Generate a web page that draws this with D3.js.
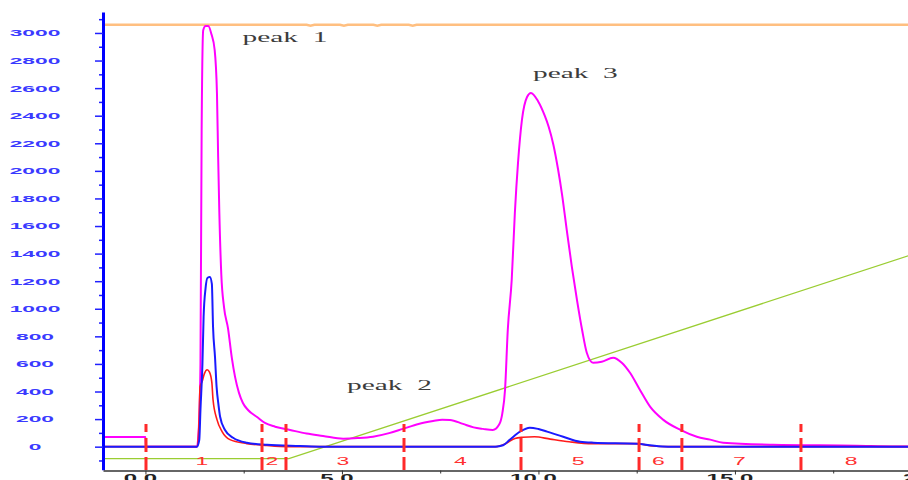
<!DOCTYPE html>
<html><head><meta charset="utf-8">
<script src="https://cdn.jsdelivr.net/npm/d3@7"></script>
<style>html,body{margin:0;padding:0;background:#fff;overflow:hidden}svg{display:block}</style>
</head><body><svg id="c" width="908" height="480"></svg>
<script>
// ---- data (time in min, signal in mAU / mS) ----
const uvTrace = [[-1.08,70],[0.0,70],[0.01,0],[1.31,0],[1.36,150],[1.40,600],[1.43,2300],[1.47,3020],[1.53,3050],[1.60,3050],[1.68,2990],[1.76,2880],[1.82,2560],[1.85,2100],[1.88,1700],[1.93,1250],[2.00,1010],[2.10,860],[2.20,640],[2.28,506],[2.38,390],[2.48,317],[2.61,266],[2.84,215],[3.04,172],[3.3,145],[3.68,121],[4.1,95],[4.52,78],[5.03,58],[5.4,62],[5.79,72],[6.2,98],[6.55,129],[6.95,165],[7.32,186],[7.55,196],[7.75,194],[8.08,165],[8.35,140],[8.59,129],[8.84,121],[9.0,160],[9.08,240],[9.15,413],[9.22,848],[9.32,1210],[9.40,1696],[9.48,2058],[9.58,2370],[9.71,2536],[9.81,2565],[9.99,2505],[10.16,2400],[10.26,2320],[10.38,2190],[10.50,2010],[10.60,1830],[10.72,1572],[10.85,1304],[10.98,1065],[11.11,848],[11.23,681],[11.39,609],[11.61,616],[11.90,645],[12.12,609],[12.33,536],[12.58,413],[12.84,290],[13.17,196],[13.60,123],[14.03,72],[14.37,51],[14.70,29],[15.97,14],[18.1,7],[19.0,2],[20.5,0]];
const blueTrace = [[-1.08,0],[1.31,0],[1.37,50],[1.40,268],[1.45,600],[1.48,942],[1.53,1150],[1.58,1225],[1.64,1230],[1.69,1180],[1.72,870],[1.77,650],[1.81,435],[1.86,300],[1.90,217],[2.02,123],[2.23,65],[2.58,29],[3.09,14],[3.93,5],[4.5,0],[8.9,0],[9.1,10],[9.27,50],[9.53,109],[9.78,138],[10.0,128],[10.22,109],[10.63,72],[11.06,36],[11.4,29],[12.5,22],[12.9,8],[13.3,0],[20.5,0]];
const redTrace = [[-1.08,0],[1.31,0],[1.36,150],[1.39,435],[1.44,470],[1.50,530],[1.57,558],[1.63,540],[1.69,464],[1.72,340],[1.82,196],[1.95,109],[2.15,51],[2.58,22],[3.09,8],[3.6,0],[8.9,0],[9.15,20],[9.40,60],[9.60,68],[9.90,72],[10.3,55],[10.78,36],[11.37,22],[12.5,22],[12.9,5],[13.3,0],[20.5,0]];
const gradientTrace = [[-1.08,-87],[3.65,-87],[20.5,1486]];
const pressureTrace = [[-1.08,3060],[4.1,3060],[4.2,3053],[4.3,3060],[4.95,3060],[5.05,3053],[5.15,3060],[5.8,3060],[5.9,3053],[6.0,3060],[6.7,3060],[6.8,3053],[6.9,3060],[20.5,3060]];
const fractionMarks = [0.014, 2.966, 3.576, 6.579, 9.556, 12.56, 13.65, 16.68];
const fractionEnd = 19.33;
const fractionLabels = ["1","2","3","4","5","6","7","8"];
const yMajorTicks = d3.range(0, 3001, 200);
const yMinorTicks = d3.range(-100, 3101, 200);
const xMajorTicks = [0, 5, 10, 15, 20];
const xMinorTicks = [2.5, 7.5, 12.5, 17.5];
const xTickLabels = ["0.0", "5.0", "10.0", "15.0", "20.0"];
const peakNotes = [{t:2.47, v:2935, text:"peak  1"}, {t:5.13, v:410, text:"peak  2"}, {t:9.86, v:2675, text:"peak  3"}];

// ---- scales ----
const svg = d3.select("#c");
const x = d3.scaleLinear().domain([-1.08, 20.5]).range([103, 103 + 21.58 * 39.3]);
const y = d3.scaleLinear().domain([-167, 3152]).range([469.7, 12]);

function stretched(g, px, py, str, sx, anchor) {
  return g.append("text").attr("transform", `translate(${px},${py}) scale(${sx},1)`)
    .attr("text-anchor", anchor).style("white-space", "pre").text(str);
}

// ---- traces ----
const line = d3.line().x(d => x(d[0])).y(d => y(d[1]));
const lineS = d3.line().x(d => x(d[0])).y(d => y(d[1])).curve(d3.curveMonotoneX);
svg.append("path").datum(gradientTrace).attr("d", line).attr("fill", "none").attr("stroke", "#9acd32").attr("stroke-width", 1.3);
svg.append("path").datum(pressureTrace).attr("d", line).attr("fill", "none").attr("stroke", "#ffbf80").attr("stroke-width", 2.5);
svg.append("path").datum(uvTrace).attr("d", lineS).attr("fill", "none").attr("stroke", "#ff00ff").attr("stroke-width", 2);
svg.append("path").datum(redTrace).attr("d", lineS).attr("fill", "none").attr("stroke", "#ff1a1a").attr("stroke-width", 1.6);
svg.append("path").datum(blueTrace).attr("d", lineS).attr("fill", "none").attr("stroke", "#1a1aff").attr("stroke-width", 2);

// ---- fraction markers ----
svg.append("g").selectAll("line").data(fractionMarks).join("line")
  .attr("x1", d => x(d)).attr("x2", d => x(d)).attr("y1", y(165)).attr("y2", y(-170))
  .attr("stroke", "#ff2a2a").attr("stroke-width", 3).attr("stroke-dasharray", "8,6,14,5,14");
const fg = svg.append("g").attr("fill", "#ff3030").style("font-family", "Liberation Sans, Arial, sans-serif").style("font-size", "10px");
fractionLabels.forEach((lab, i) => {
  const a = fractionMarks[i], b = i + 1 < fractionMarks.length ? fractionMarks[i + 1] : fractionEnd;
  stretched(fg, (x(a) + x(b)) / 2 - 2, 464.5, lab, 2.3, "middle");
});

// ---- y axis ----
const yMinor = svg.append("g").attr("transform", "translate(103,0)")
  .call(d3.axisLeft(y).tickValues(yMinorTicks).tickSize(4).tickSizeOuter(0).tickFormat(""));
const yMajor = svg.append("g").attr("transform", "translate(103,0)")
  .call(d3.axisLeft(y).tickValues(yMajorTicks).tickSize(8).tickSizeOuter(0).tickFormat(""));
[yMinor, yMajor].forEach(g => { g.selectAll(".tick line").attr("stroke", "#2020ff").attr("stroke-width", 1.5); });
yMinor.select(".domain").remove();
yMajor.select(".domain").attr("stroke", "#0000ff").attr("stroke-width", 3);
const yl = svg.append("g").attr("fill", "#3a3aff").style("font-family", "Liberation Sans, Arial, sans-serif")
  .style("font-size", "9.5px").style("font-weight", "bold");
yMajorTicks.forEach(v => stretched(yl, 35, y(v) + 3.4, String(v), 2.4, "middle"));

// ---- x axis ----
const xMinorG = svg.append("g").attr("transform", "translate(0,470.5)")
  .call(d3.axisBottom(x).tickValues(xMinorTicks).tickSize(3).tickSizeOuter(0).tickFormat(""));
const xMajorG = svg.append("g").attr("transform", "translate(0,470.5)")
  .call(d3.axisBottom(x).tickValues(xMajorTicks).tickSize(4).tickSizeOuter(0).tickFormat(""));
xMinorG.select(".domain").remove();
xMajorG.select(".domain").attr("stroke", "#333").attr("stroke-width", 1.5);
[xMinorG, xMajorG].forEach(g => g.selectAll(".tick line").attr("stroke", "#333"));
const xl = svg.append("g").attr("fill", "#222").style("font-family", "Liberation Sans, Arial, sans-serif")
  .style("font-size", "10px").style("font-weight", "bold");
xMajorTicks.forEach((t, i) => stretched(xl, x(t) - 5, 481.5, xTickLabels[i], 2.4, "middle"));

// ---- peak notes ----
const pl = svg.append("g").attr("fill", "#3c3c3c").style("font-family", "Liberation Serif, Times New Roman, serif").style("font-size", "14px");
peakNotes.forEach(p => stretched(pl, x(p.t), y(p.v), p.text, 2.1, "start"));
</script></body></html>
